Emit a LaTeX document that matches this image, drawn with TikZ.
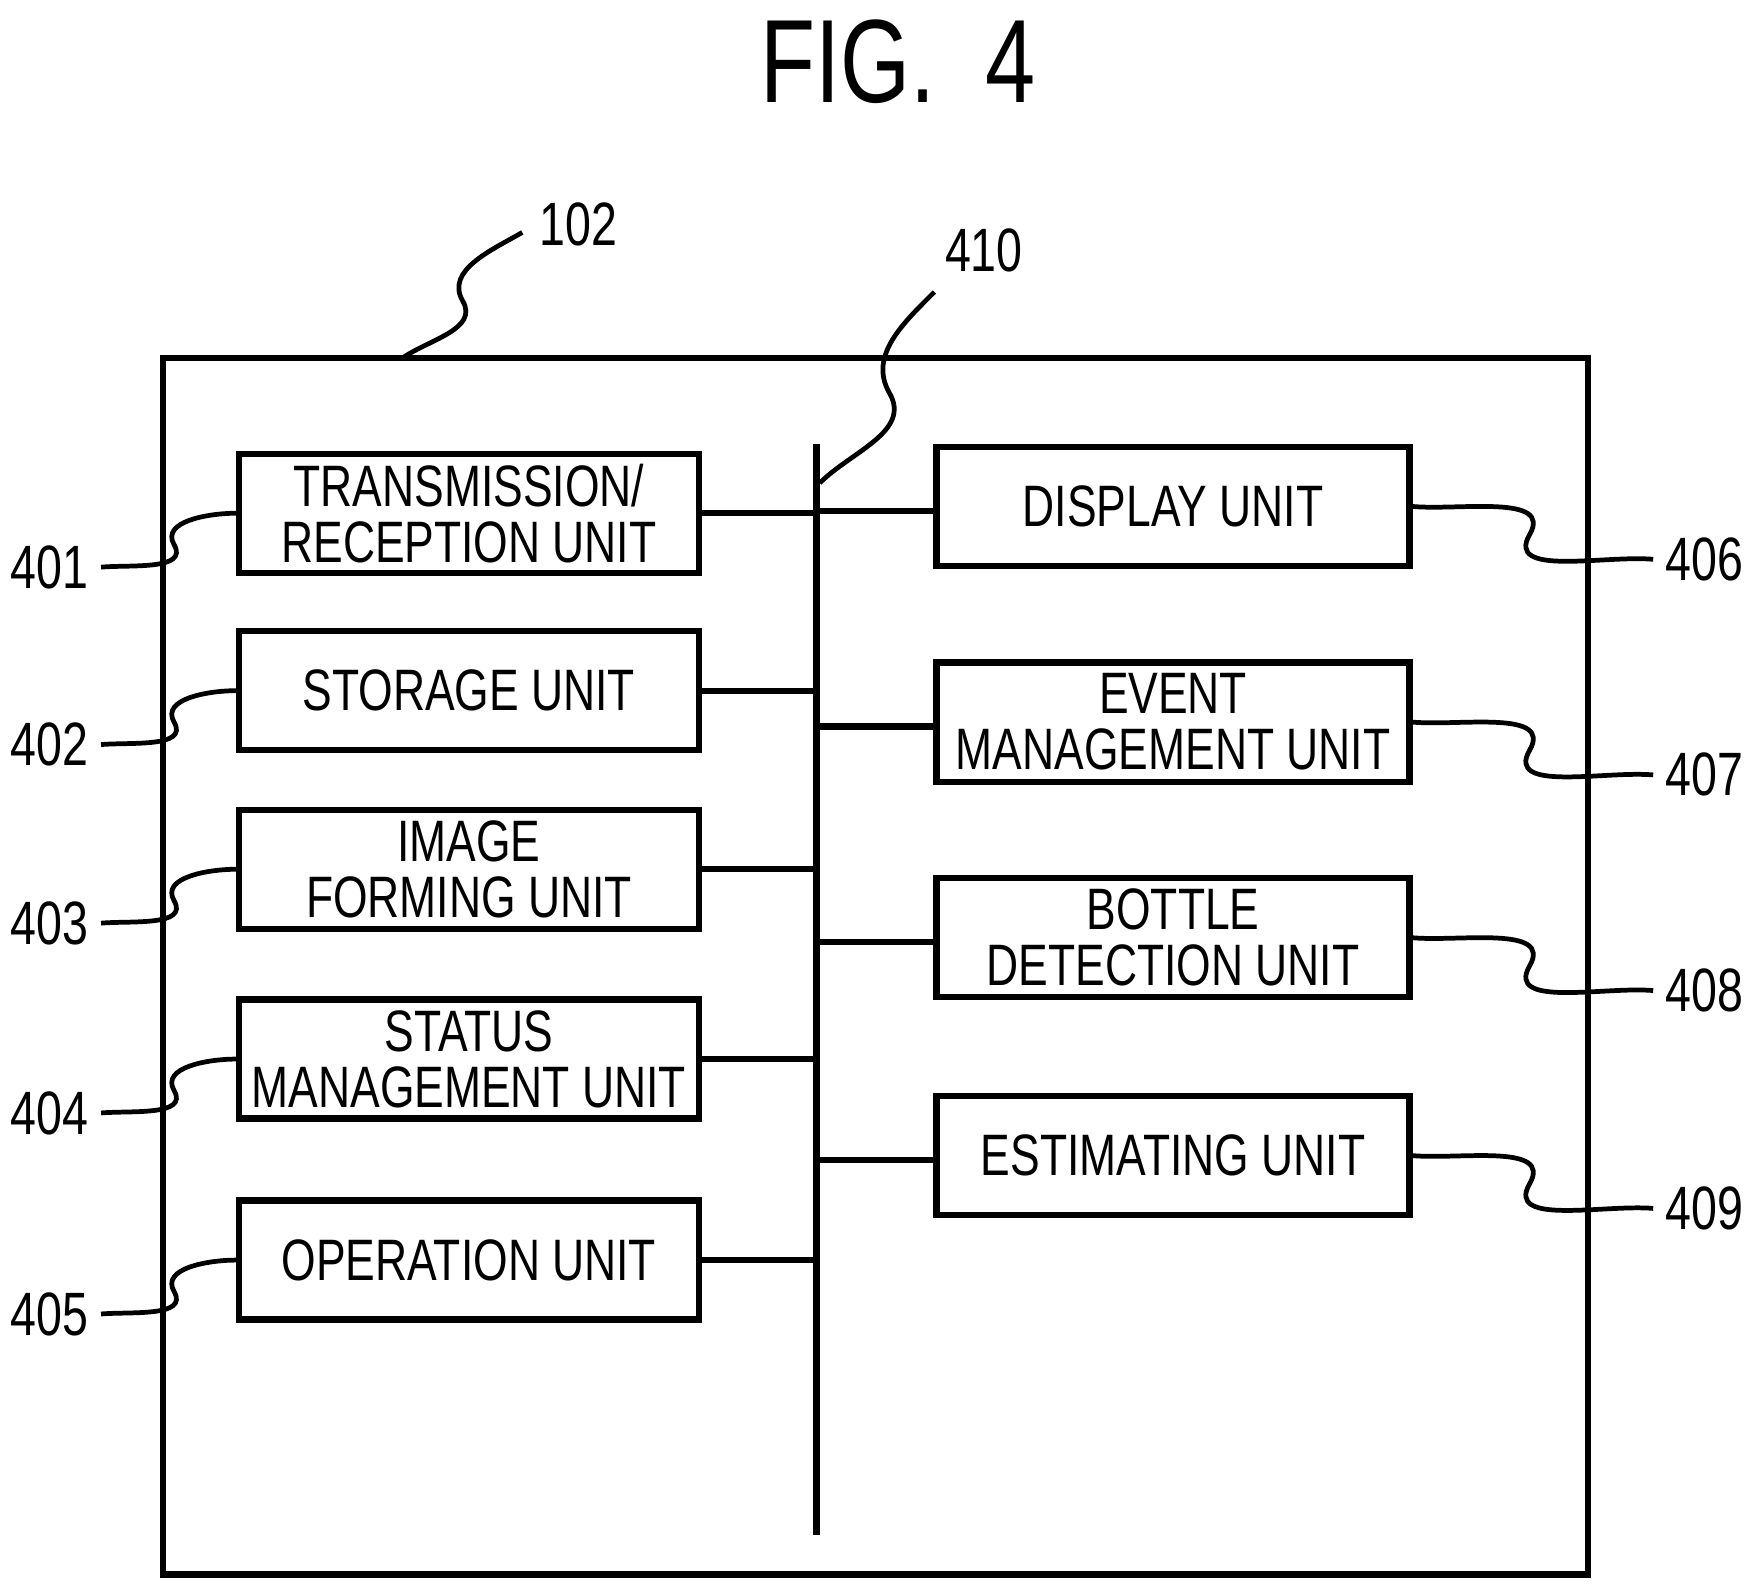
\documentclass[tikz,border=0pt]{standalone}
\usepackage{fontspec}
\setmainfont[FakeStretch=0.76]{Liberation Sans}
\begin{document}
\begin{tikzpicture}[x=0.01cm,y=-0.01cm,
 box/.style={draw,line width=1.6pt,inner sep=0pt,align=center,font=\fontsize{14.8}{14.2}\selectfont},
 lab/.style={inner sep=3pt,font=\fontsize{15.5}{15.5}\selectfont},
 ln/.style={line width=1.6pt},
 ld/.style={line width=1.2pt}]
\useasboundingbox (0,0) rectangle (1560,1416);
\node[font=\fontsize{30}{30}\selectfont] (fig) at (800,55) {FIG.\ \ 4};
\draw[ln] (145,319) rectangle (1414,1402);
\coordinate (bt) at (727,395); \coordinate (bb) at (727,1367);
\draw[ln] (bt) -- (bb);
% left boxes
\foreach \n/\y/\t in {401/457/{TRANSMISSION/\\RECEPTION UNIT},402/615/{STORAGE UNIT},403/774/{IMAGE\\FORMING UNIT},404/943/{STATUS\\MANAGEMENT UNIT},405/1122/{OPERATION UNIT}}{
 \node[box,minimum width=4.09cm,minimum height=1.06cm] (b\n) at (417.5,\y) {\t};
 \node[lab,anchor=east] (l\n) at (90,\y+48) {\n};
 \draw[ln] (b\n.east) -- (727,\y);
 \draw[ld] (l\n.east) to[out=5,in=-60] (155,\y+28) to[out=120,in=180] (b\n.west);
}
% right boxes
\foreach \n/\y/\t/\ly in {406/451/{DISPLAY UNIT}/498,407/643/{EVENT\\MANAGEMENT UNIT}/690,408/835/{BOTTLE\\DETECTION UNIT}/882,409/1029/{ESTIMATING UNIT}/1076}{
 \node[box,minimum width=4.21cm,minimum height=1.06cm] (b\n) at (1044.5,\y) {\t};
 \node[lab,anchor=west] (l\n) at (1472,\ly) {\n};
 \draw[ln] (727,\y+4) -- (b\n.west|-0,\y+4);
 \draw[ld] (b\n.east) to[out=-5,in=60] (1362,\ly-22) to[out=-120,in=175] (l\n.west);
}
\node[lab] (l102) at (515,200) {102};
\draw[ld] (358,319) to[out=35,in=-60] (412,268) to[out=120,in=-150] (465,207);
\node[lab] (l410) at (876,223) {410};
\draw[ld] (730,430) to[out=45,in=-60] (792,350) to[out=120,in=-135] (832,260);
\end{tikzpicture}
\end{document}
